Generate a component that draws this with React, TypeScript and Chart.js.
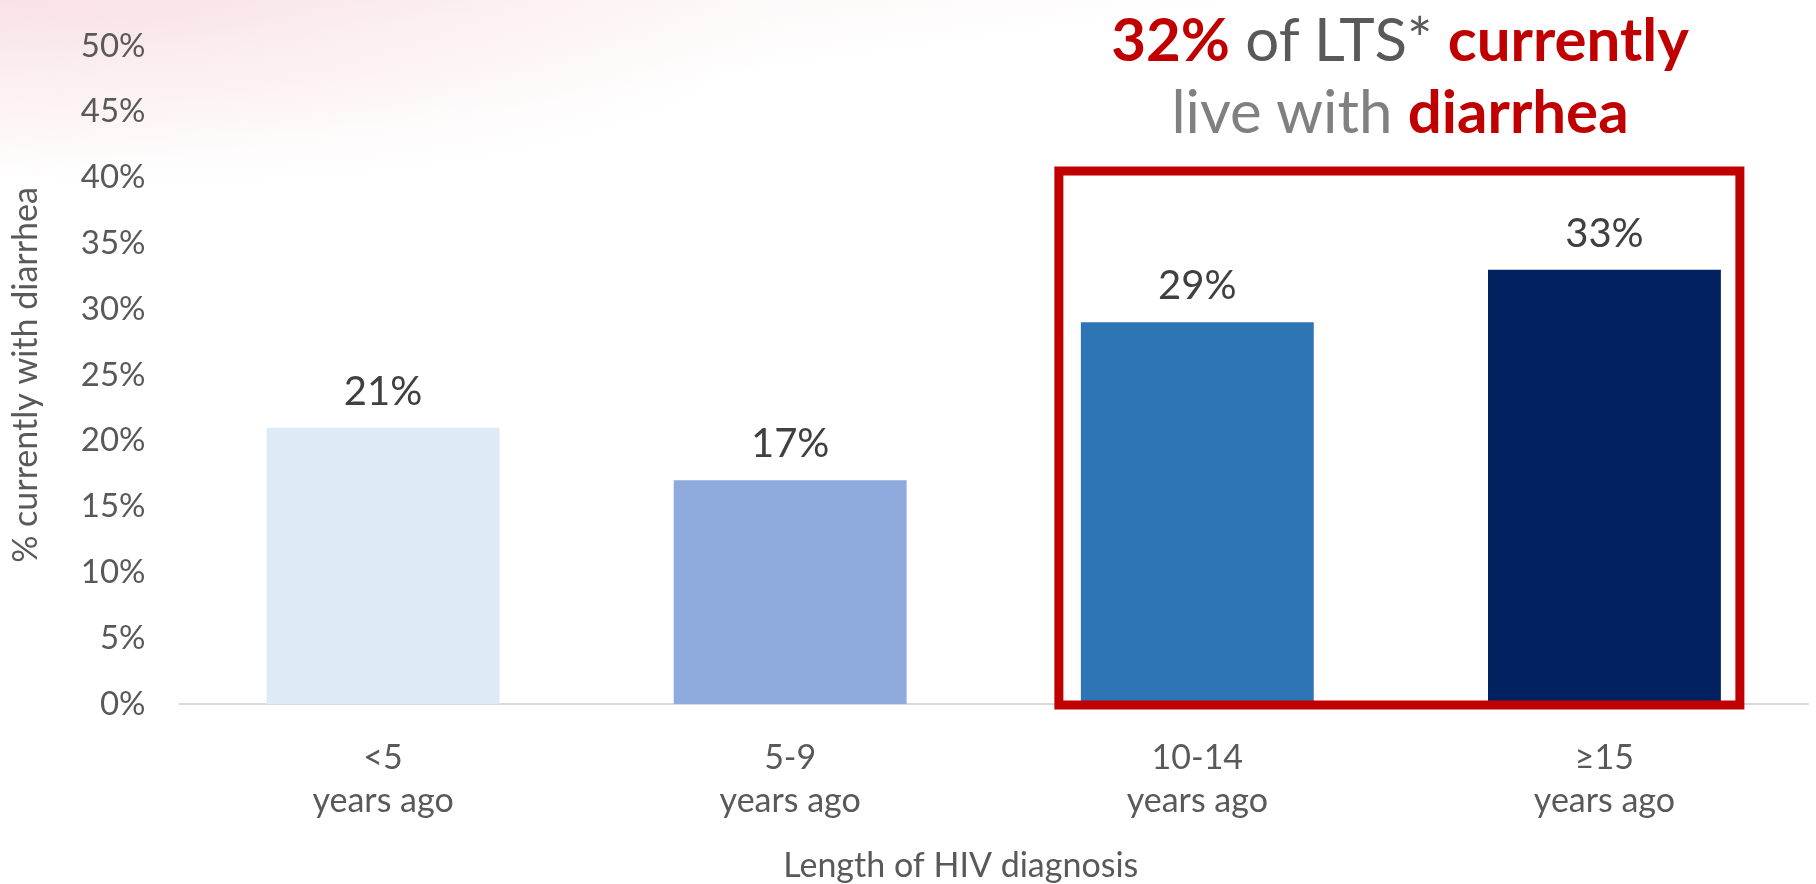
import React, { useEffect, useRef } from "react";
import { Chart, registerables } from "chart.js";

Chart.register(...registerables);

const categories: string[][] = [["<5", "years ago"], ["5-9", "years ago"], ["10-14", "years ago"], ["\u226515", "years ago"]];
const values: number[] = [21, 17, 29, 33];
const barColors: string[] = ["#DEEAF6", "#8FAADC", "#2E75B6", "#002060"];
const yTicks: number[] = [0, 5, 10, 15, 20, 25, 30, 35, 40, 45, 50];
const yTitle = "% currently with diarrhea";
const xTitle = "Length of HIV diagnosis";
const highlightFrom = 2;
const highlightTo = 3;
const highlightTop = 40.5;

const FONT = "Lato, 'Open Sans', sans-serif";

const overlayPlugin = {
  id: "overlay",
  afterDatasetsDraw(chart: any) {
    const ctx = chart.ctx;
    const meta = chart.getDatasetMeta(0);
    const yScale = chart.scales.y;
    // value labels
    ctx.save();
    ctx.font = `40px ${FONT}`;
    ctx.fillStyle = "#404040";
    ctx.textAlign = "center";
    ctx.textBaseline = "middle";
    meta.data.forEach((bar: any, i: number) => {
      ctx.fillText(`${values[i]}%`, bar.x, bar.y - 36);
    });
    ctx.restore();
    // highlight box
    const b1 = meta.data[highlightFrom];
    const b2 = meta.data[highlightTo];
    const left = b1.x - b1.width / 2 - 22;
    const right = b2.x + b2.width / 2 + 19;
    const top = yScale.getPixelForValue(highlightTop);
    const bottom = yScale.getPixelForValue(0) + 1;
    ctx.save();
    ctx.strokeStyle = "#C00000";
    ctx.lineWidth = 9;
    ctx.strokeRect(left, top, right - left, bottom - top);
    ctx.restore();
    // x axis title
    const ca = chart.chartArea;
    ctx.save();
    ctx.font = `34px ${FONT}`;
    ctx.fillStyle = "#595959";
    ctx.textAlign = "center";
    ctx.textBaseline = "middle";
    ctx.fillText(xTitle, (ca.left + ca.right) / 2 - 33, 866);
    ctx.restore();
  },
};

export default function App() {
  const ref = useRef<HTMLCanvasElement | null>(null);
  useEffect(() => {
    if (!ref.current) return;
    const chart = new Chart(ref.current, {
      type: "bar",
      data: {
        labels: categories,
        datasets: [
          {
            data: values,
            backgroundColor: barColors,
            borderWidth: 0,
            barPercentage: 0.572,
            categoryPercentage: 1,
          },
        ],
      },
      options: {
        animation: false,
        responsive: false,
        maintainAspectRatio: false,
        layout: { padding: { top: 46, right: 8, bottom: 0, left: 0 } },
        plugins: { legend: { display: false }, tooltip: { enabled: false }, title: { display: false } },
        scales: {
          x: {
            grid: { display: true, drawOnChartArea: false, drawTicks: false, color: "transparent" },
            border: { display: true, color: "#D9D9D9", width: 2 },
            ticks: {
              color: "#595959",
              font: { family: FONT, size: 34, lineHeight: 1.25 },
              padding: 33,
              maxRotation: 0,
              autoSkip: false,
            },
            afterFit(scale: any) {
              scale.height = 180;
              scale.paddingLeft = 0;
              scale.paddingRight = 0;
            },
          },
          y: {
            min: 0,
            max: 50,
            afterBuildTicks(scale: any) {
              scale.ticks = yTicks.map((v) => ({ value: v }));
            },
            grid: { display: false, drawTicks: false },
            border: { display: false },
            ticks: {
              color: "#595959",
              font: { family: FONT, size: 33 },
              padding: 34,
              callback: (v: any) => `${v}%`,
            },
            title: {
              display: true,
              text: yTitle,
              color: "#595959",
              font: { family: FONT, size: 34 },
              padding: { top: 6, bottom: 4 },
            },
            afterFit(scale: any) {
              scale.width = 179.5;
              scale.paddingTop = 0;
              scale.paddingBottom = 0;
            },
          },
        },
      },
      plugins: [overlayPlugin],
    });
    return () => chart.destroy();
  }, []);

  return (
    <div
      style={{
        position: "absolute",
        left: 0,
        top: 0,
        width: 1816,
        height: 884,
        overflow: "hidden",
        background:
          "linear-gradient(172deg, rgba(243,205,210,0.45) 0%, rgba(248,225,228,0.3) 7%, rgba(255,255,255,0) 16%), radial-gradient(ellipse 620px 170px at 160px 20px, rgba(245,210,215,0.35), rgba(255,255,255,0))",
        backgroundColor: "#fff",
      }}
    >
      <canvas ref={ref} width={1816} height={884} style={{ position: "absolute", left: 0, top: 0 }} />
      <div
        style={{
          position: "absolute",
          left: 1000,
          width: 800,
          top: 2,
          textAlign: "center",
          fontFamily: FONT,
          fontSize: 60,
          lineHeight: "72px",
          color: "#595959",
        }}
      >
        <div>
          <span style={{ color: "#C00000", fontWeight: 700 }}>32%</span>
          <span> of LTS* </span>
          <span style={{ color: "#C00000", fontWeight: 700 }}>currently</span>
        </div>
        <div>
          <span style={{ color: "#808080" }}>live with </span>
          <span style={{ color: "#C00000", fontWeight: 700 }}>diarrhea</span>
        </div>
      </div>
    </div>
  );
}
